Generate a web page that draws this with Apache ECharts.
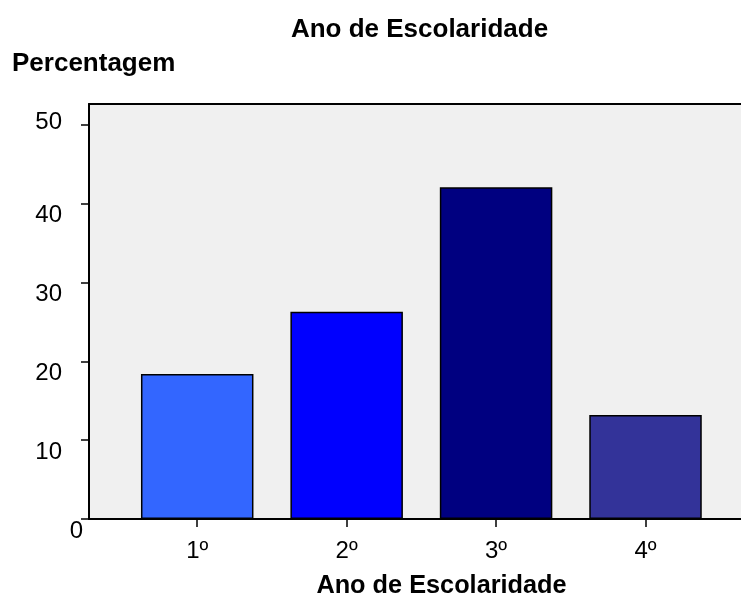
<!DOCTYPE html>
<html>
<head>
<meta charset="utf-8">
<script src="https://cdn.jsdelivr.net/npm/echarts@6/dist/echarts.min.js"></script>
<style>
html,body{margin:0;padding:0;background:#fff;}
#chart{width:741px;height:598px;}
</style>
</head>
<body>
<div id="chart"></div>
<script>
var chartTitle = 'Ano de Escolaridade';
var yTitle = 'Percentagem';
var xTitle = 'Ano de Escolaridade';
var categories = ['1º', '2º', '3º', '4º'];
var percentages = [18.4, 26.3, 42.1, 13.2];
var barColors = ['#3366ff', '#0000ff', '#000080', '#333399'];
var yTicks = [0, 10, 20, 30, 40, 50];

var FONT = '"Liberation Sans", Arial, sans-serif';
var positions = categories.map(function (c, i) { return i + 1; });

var chart = echarts.init(document.getElementById('chart'), null, {renderer: 'canvas'});
chart.setOption({
  animation: false,
  backgroundColor: '#ffffff',
  title: [
    {text: chartTitle, left: 419.5, top: 17, padding: 0, textAlign: 'center',
     textStyle: {fontFamily: FONT, fontSize: 26, fontWeight: 'bold', color: '#000'}},
    {text: yTitle, left: 12, top: 51, padding: 0,
     textStyle: {fontFamily: FONT, fontSize: 26, fontWeight: 'bold', color: '#000'}}
  ],
  grid: {left: 89, right: 0, top: 104, bottom: 79, show: true, backgroundColor: '#f0f0f0', borderWidth: 0,
         containLabel: false, outerBoundsMode: 'none'},
  xAxis: [{
    type: 'value',
    min: 0.2758,
    max: 4.639,
    name: xTitle,
    nameLocation: 'middle',
    nameGap: 55,
    nameTextStyle: {fontFamily: FONT, fontSize: 25.3, fontWeight: 'bold', color: '#000', padding: [0, 0, 0, 53]},
    splitLine: {show: false},
    axisLine: {show: true, lineStyle: {color: '#000', width: 2}},
    axisTick: {show: true, length: 8, inside: false, customValues: positions, lineStyle: {color: '#000', width: 1.5}},
    axisLabel: {
      show: true, margin: 20, customValues: positions,
      fontFamily: FONT, fontSize: 24, color: '#000',
      formatter: function (v) { return categories[Math.round(v) - 1] || ''; }
    }
  }, {
    type: 'value', position: 'top', min: 0.2758, max: 4.639,
    splitLine: {show: false},
    axisLine: {show: true, lineStyle: {color: '#000', width: 2}},
    axisTick: {show: false}, axisLabel: {show: false}
  }],
  yAxis: {
    type: 'value',
    min: 0,
    max: 52.66,
    splitLine: {show: false},
    axisLine: {show: true, lineStyle: {color: '#000', width: 2}},
    axisTick: {show: true, length: 8, customValues: yTicks, lineStyle: {color: '#000', width: 1.5}},
    axisLabel: {
      show: true, margin: 6, customValues: yTicks,
      fontFamily: FONT, fontSize: 24, color: '#000',
      formatter: function (v) {
        if (v === 0) return '{z|' + v + '}';
        if (v === 50) return '{t|' + v + '}';
        return '{n|' + v + '}';
      },
      rich: {
        n: {fontFamily: FONT, fontSize: 24, color: '#000', padding: [24, 21, 0, 0]},
        z: {fontFamily: FONT, fontSize: 24, color: '#000', padding: [24, 0, 0, 0]},
        t: {fontFamily: FONT, fontSize: 24, color: '#000', padding: [0, 21, 6, 0]}
      }
    }
  },
  series: [{
    type: 'bar',
    xAxisIndex: 0,
    barWidth: 112.5,
    data: percentages.map(function (v, i) {
      return {value: [positions[i], v], itemStyle: {color: barColors[i], borderColor: '#000', borderWidth: 1.5}};
    })
  }]
});
</script>
</body>
</html>
